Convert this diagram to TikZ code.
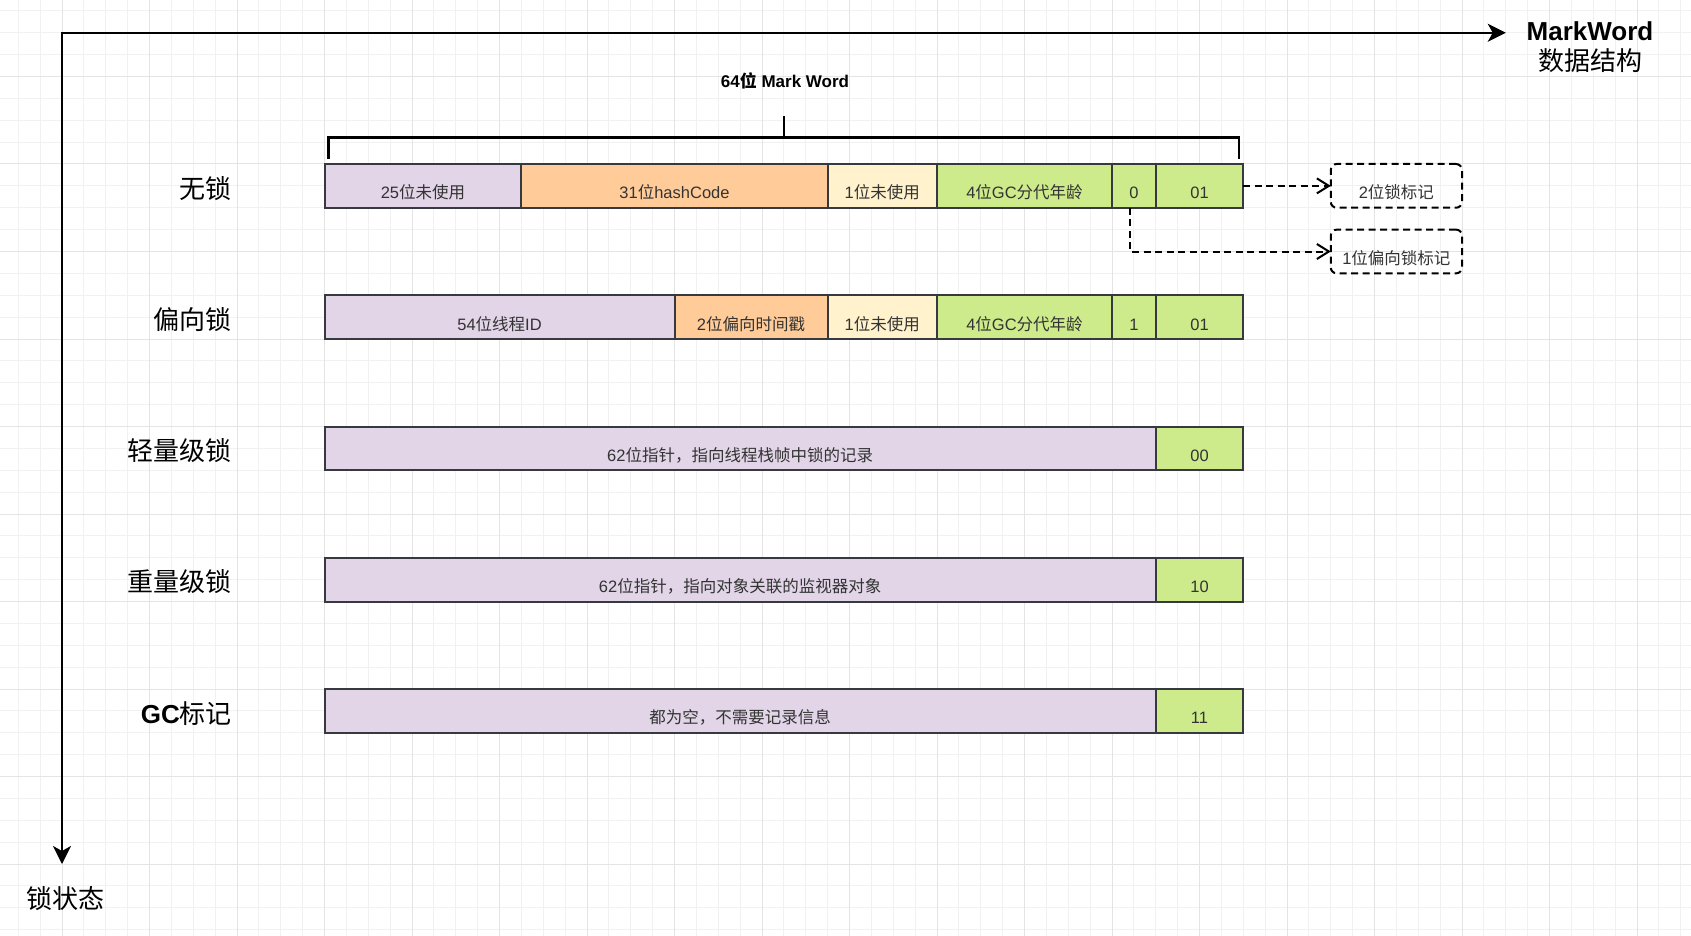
\documentclass[tikz,border=0pt]{standalone}
\usepackage{fontspec}
\setmainfont{Liberation Sans}
\newfontfamily\cjk{Noto Sans CJK SC}
\usetikzlibrary{arrows.meta}
\definecolor{cpurple}{HTML}{E1D5E7}
\definecolor{corange}{HTML}{FFCC99}
\definecolor{ccream}{HTML}{FFF2CC}
\definecolor{cgreen}{HTML}{CDEB8B}
\definecolor{cborder}{HTML}{36393D}
\definecolor{ctext}{HTML}{333333}
\definecolor{gridmin}{HTML}{F1F1F1}
\definecolor{gridmaj}{HTML}{E4E4E4}
% cell: name, from column, to column, row (grid units), fill, text
\newcommand\mwcell[6]{%
  \node[cell,fill=#5,minimum width={(#3-#2)*21.875pt}] (#1) at ({62+#2*21.875},{-11+#4*21.875}) {#6};}
\begin{document}
\begin{tikzpicture}[x=1pt,y=-1pt,
  cell/.style={draw=cborder,line width=2pt,anchor=north west,inner sep=0pt,outer sep=0pt,
    minimum height=43.75pt,text height=26pt,text depth=0pt,text=ctext,
    font=\fontsize{16.5}{18}\selectfont},
  dbox/.style={draw=black,line width=2pt,dash pattern=on 7pt off 4.5pt,rounded corners=6pt,
    anchor=north west,inner sep=0pt,outer sep=0pt,minimum width=131.25pt,minimum height=43.75pt,
    text height=26pt,text depth=0pt,text=ctext,font=\fontsize{16.5}{18}\selectfont},
  dconn/.style={draw=black,line width=2pt,dash pattern=on 7pt off 4.5pt,
    -{Straight Barb[length=12pt,width=15pt]}},
  axis/.style={draw=black,line width=2.4pt,
    {Stealth[length=18pt,width=18pt,inset=5pt]}-{Stealth[length=18pt,width=18pt,inset=5pt]}},
  brk/.style={draw=black,line width=2.2pt},
  lab/.style={font=\cjk\fontsize{26}{30}\selectfont,inner sep=0pt,text=black},
  gmin/.style={draw=gridmin,line width=1pt},
  gmaj/.style={draw=gridmaj,line width=1pt}]
\useasboundingbox (0,0) rectangle (1691,936);
\fill[white] (0,0) rectangle (1691,936);
% grid
\foreach \k in {-2,...,74} \draw[gmin] ({\k*21.875+62},0) -- ({\k*21.875+62},936);
\foreach \k in {1,...,43} \draw[gmin] (0,{\k*21.875-11}) -- (1691,{\k*21.875-11});
\foreach \k in {0,4,...,72} \draw[gmaj] ({\k*21.875+62},0) -- ({\k*21.875+62},936);
\foreach \k in {4,8,...,40} \draw[gmaj] (0,{\k*21.875-11}) -- (1691,{\k*21.875-11});
% axes
\coordinate (O) at (62,32.75);
\coordinate (xtip) at (1505.75,32.75);
\coordinate (ytip) at (62,864);
\draw[axis] (ytip) -- (O) -- (xtip);
\node[anchor=north,align=center,inner sep=0pt,font=\fontsize{26}{30}\selectfont] (mw) at (1590,21)
  {{\bfseries MarkWord}\\{\cjk 数据结构}};
\node[lab,anchor=base] (ylab) at (65,908) {锁状态};
% bracket
\coordinate (bl) at (328.5,159);
\coordinate (br) at (1239.25,159);
\coordinate (bm) at (783.9,137.5);
\draw[brk] (bl) -- (328.5,137.5) -- (1239.25,137.5) -- (br);
\draw[brk] (bm) -- (783.9,116.5);
\node[anchor=base,inner sep=0pt,font=\bfseries\fontsize{17}{20}\selectfont] (title) at (785,88)
  {64{\cjk 位} Mark Word};
% row labels
\node[lab,anchor=base east] (s1) at (232,198) {无锁};
\node[lab,anchor=base east] (s2) at (232,329.25) {偏向锁};
\node[lab,anchor=base east] (s3) at (232,460.5) {轻量级锁};
\node[lab,anchor=base east] (s4) at (232,591.75) {重量级锁};
\node[lab,anchor=base east] (s5) at (232,723) {{\rmfamily\bfseries GC}标记};
% row 1
\mwcell{c11}{12}{21}{8}{cpurple}{25{\cjk 位未使用}}
\mwcell{c12}{21}{35}{8}{corange}{31{\cjk 位}hashCode}
\mwcell{c13}{35}{40}{8}{ccream}{1{\cjk 位未使用}}
\mwcell{c14}{40}{48}{8}{cgreen}{4{\cjk 位}GC{\cjk 分代年龄}}
\mwcell{c15}{48}{50}{8}{cgreen}{0}
\mwcell{c16}{50}{54}{8}{cgreen}{01}
% row 2
\mwcell{c21}{12}{28}{14}{cpurple}{54{\cjk 位线程}ID}
\mwcell{c22}{28}{35}{14}{corange}{2{\cjk 位偏向时间戳}}
\mwcell{c23}{35}{40}{14}{ccream}{1{\cjk 位未使用}}
\mwcell{c24}{40}{48}{14}{cgreen}{4{\cjk 位}GC{\cjk 分代年龄}}
\mwcell{c25}{48}{50}{14}{cgreen}{1}
\mwcell{c26}{50}{54}{14}{cgreen}{01}
% row 3
\mwcell{c31}{12}{50}{20}{cpurple}{62{\cjk 位指针，指向线程栈帧中锁的记录}}
\mwcell{c32}{50}{54}{20}{cgreen}{00}
% row 4
\mwcell{c41}{12}{50}{26}{cpurple}{62{\cjk 位指针，指向对象关联的监视器对象}}
\mwcell{c42}{50}{54}{26}{cgreen}{10}
% row 5
\mwcell{c51}{12}{50}{32}{cpurple}{{\cjk 都为空，不需要记录信息}}
\mwcell{c52}{50}{54}{32}{cgreen}{11}
% dashed notes
\node[dbox] (b1) at ({62+58*21.875},{-11+8*21.875}) {2{\cjk 位锁标记}};
\node[dbox] (b2) at ({62+58*21.875},{-11+11*21.875}) {1{\cjk 位偏向锁标记}};
\draw[dconn] (c16.east) -- (b1.west);
\draw[dconn] ([xshift=-3.9pt]c15.south) |- (b2.west);
\end{tikzpicture}
\end{document}
